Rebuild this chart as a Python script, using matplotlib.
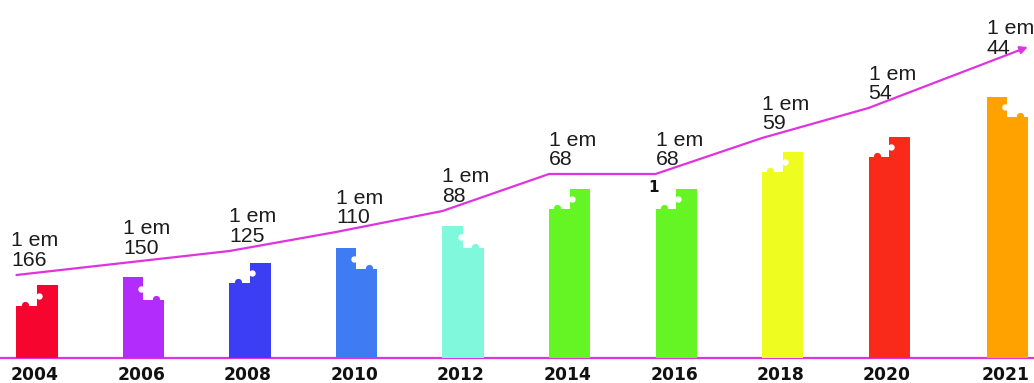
import numpy as np
import matplotlib
matplotlib.use("Agg")
import matplotlib.pyplot as plt

# ---- data ----
years = ["2004", "2006", "2008", "2010", "2012", "2014", "2016", "2018", "2020", "2021"]
ratio_labels = ["166", "150", "125", "110", "88", "68", "68", "59", "54", "44"]
bar_left = [52, 81, 75, 110, 132, 149, 149, 186, 201, 261]
bar_right = [73, 58, 95, 89, 110, 169, 169, 206, 221, 241]
trend = [83, 95, 107, 126, 147, 184, 184, 220, 250, 311]
colors = ["#f6062e", "#b22cfc", "#3b3ef2", "#3f7cf4", "#80f8dc",
          "#66f524", "#66f524", "#eefc20", "#fa2a1a", "#ffa200"]

LINE_C = "#e033e0"

fig = plt.figure(figsize=(10.34, 3.83), dpi=100)
ax = fig.add_axes([0, 0, 1, 1])
ax.set_xlim(-0.347, 9.361)
ax.set_ylim(-25, 358)
ax.axis("off")

n = len(years)
pos = np.arange(n, dtype=float)
pos[-1] += 0.11
hw = 0.1925
px = 1 / 106.5  # one pixel in x data units

# baseline
ax.axhline(0, color=LINE_C, lw=1.6, zorder=1)

for i in range(n):
    c = colors[i]
    ax.bar(pos[i] - hw, bar_left[i], width=hw, align="edge", color=c, lw=0, zorder=2)
    ax.bar(pos[i], bar_right[i], width=hw + 0.002, align="edge", color=c, lw=0, zorder=2)
    lo, hi = min(bar_left[i], bar_right[i]), max(bar_left[i], bar_right[i])
    if bar_left[i] < bar_right[i]:
        bump_x = pos[i] - hw / 2 - 2 * px
        hole_x = pos[i] + 2 * px
    else:
        bump_x = pos[i] + hw / 2 + 2 * px
        hole_x = pos[i] - 2 * px
    ax.plot(bump_x, lo + 1.5, "o", ms=5.2, color=c, mew=0, zorder=3)
    ax.plot(hole_x, (lo + hi) / 2, "o", ms=4.6, color="white", mew=0, zorder=3)

# trend line
lx = list(pos[:-1] - hw) + [pos[-1] + hw]
ax.plot(lx[:-1], trend[:-1], color=LINE_C, lw=1.6, zorder=4, solid_capstyle="round")
ax.annotate("", xy=(lx[-1], trend[-1]), xytext=(lx[-2], trend[-2]),
            arrowprops=dict(arrowstyle="-|>", color=LINE_C, lw=1.6,
                            mutation_scale=11, shrinkA=0, shrinkB=0), zorder=4)

# labels
for i in range(n):
    tx = pos[i] - hw - (5 * px if i == 0 else 0)
    base = np.interp(tx, lx, trend) + 9
    ax.text(tx, base, ratio_labels[i], fontsize=15.3, family="Liberation Sans",
            color="#1c1c1c", ha="left", va="baseline", zorder=5)
    ax.text(tx, base + 19.5, "1 em", fontsize=15.3, family="Liberation Sans",
            color="#1c1c1c", ha="left", va="baseline", zorder=5)
    ax.text(pos[i] - 2 * px, -22, years[i], fontsize=12.3, family="DejaVu Sans",
            fontweight="bold", color="#111111", ha="center", va="baseline")

# stray mark near 2016 bar
ax.text(pos[6] - hw - 2 * px, 170, "1", fontsize=11, fontweight="bold",
        family="DejaVu Sans", color="#111111", ha="center", va="center")

fig.savefig("out.png", dpi=100)
